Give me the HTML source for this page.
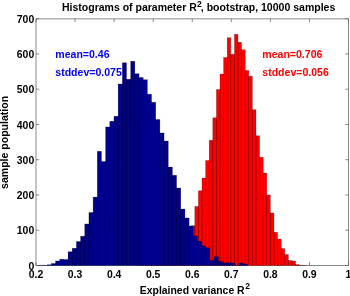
<!DOCTYPE html>
<html><head><meta charset="utf-8"><title>Histograms</title>
<style>html,body{margin:0;padding:0;background:#fff;overflow:hidden}svg{display:block;will-change:transform}</style>
</head><body>
<svg width="350" height="296" viewBox="0 0 350 296">
<rect width="350" height="296" fill="#fff"/>
<g stroke="#000" stroke-width="0.7" fill="none" opacity="0.66"><rect x="36.00" y="18.90" width="312.50" height="246.60"/><line x1="36.00" y1="265.50" x2="36.00" y2="262.20"/><line x1="36.00" y1="18.90" x2="36.00" y2="22.20"/><line x1="75.06" y1="265.50" x2="75.06" y2="262.20"/><line x1="75.06" y1="18.90" x2="75.06" y2="22.20"/><line x1="114.12" y1="265.50" x2="114.12" y2="262.20"/><line x1="114.12" y1="18.90" x2="114.12" y2="22.20"/><line x1="153.19" y1="265.50" x2="153.19" y2="262.20"/><line x1="153.19" y1="18.90" x2="153.19" y2="22.20"/><line x1="192.25" y1="265.50" x2="192.25" y2="262.20"/><line x1="192.25" y1="18.90" x2="192.25" y2="22.20"/><line x1="231.31" y1="265.50" x2="231.31" y2="262.20"/><line x1="231.31" y1="18.90" x2="231.31" y2="22.20"/><line x1="270.38" y1="265.50" x2="270.38" y2="262.20"/><line x1="270.38" y1="18.90" x2="270.38" y2="22.20"/><line x1="309.44" y1="265.50" x2="309.44" y2="262.20"/><line x1="309.44" y1="18.90" x2="309.44" y2="22.20"/><line x1="348.50" y1="265.50" x2="348.50" y2="262.20"/><line x1="348.50" y1="18.90" x2="348.50" y2="22.20"/><line x1="36.00" y1="265.50" x2="39.30" y2="265.50"/><line x1="348.50" y1="265.50" x2="345.20" y2="265.50"/><line x1="36.00" y1="230.24" x2="39.30" y2="230.24"/><line x1="348.50" y1="230.24" x2="345.20" y2="230.24"/><line x1="36.00" y1="194.98" x2="39.30" y2="194.98"/><line x1="348.50" y1="194.98" x2="345.20" y2="194.98"/><line x1="36.00" y1="159.72" x2="39.30" y2="159.72"/><line x1="348.50" y1="159.72" x2="345.20" y2="159.72"/><line x1="36.00" y1="124.46" x2="39.30" y2="124.46"/><line x1="348.50" y1="124.46" x2="345.20" y2="124.46"/><line x1="36.00" y1="89.20" x2="39.30" y2="89.20"/><line x1="348.50" y1="89.20" x2="345.20" y2="89.20"/><line x1="36.00" y1="53.94" x2="39.30" y2="53.94"/><line x1="348.50" y1="53.94" x2="345.20" y2="53.94"/><line x1="36.00" y1="18.68" x2="39.30" y2="18.68"/><line x1="348.50" y1="18.68" x2="345.20" y2="18.68"/></g>
<path d="M137.20 265.50L137.20 265.15L140.80 265.15L140.80 265.15L144.40 265.15L144.40 265.15L148.00 265.15L148.00 265.15L151.60 265.15L151.60 264.79L155.20 264.79L155.20 264.79L158.80 264.79L158.80 264.44L162.40 264.44L162.40 264.09L166.00 264.09L166.00 263.03L169.60 263.03L169.60 261.62L173.20 261.62L173.20 259.51L176.80 259.51L176.80 256.33L180.40 256.33L180.40 251.75L184.00 251.75L184.00 245.40L187.60 245.40L187.60 236.94L191.20 236.94L191.20 225.66L194.80 225.66L194.80 206.62L198.40 206.62L198.40 190.75L202.00 190.75L202.00 178.06L205.60 178.06L205.60 160.43L209.20 160.43L209.20 140.33L212.80 140.33L212.80 117.76L216.40 117.76L216.40 89.55L220.00 89.55L220.00 74.04L223.60 74.04L223.60 57.47L227.20 57.47L227.20 37.72L230.80 37.72L230.80 54.29L234.40 54.29L234.40 34.19L238.00 34.19L238.00 42.30L241.60 42.30L241.60 49.71L245.20 49.71L245.20 70.51L248.80 70.51L248.80 76.15L252.40 76.15L252.40 109.65L256.00 109.65L256.00 135.74L259.60 135.74L259.60 157.25L263.20 157.25L263.20 173.12L266.80 173.12L266.80 194.98L270.40 194.98L270.40 212.96L274.00 212.96L274.00 232.36L277.60 232.36L277.60 239.06L281.20 239.06L281.20 248.58L284.80 248.58L284.80 254.57L288.40 254.57L288.40 260.56L292.00 260.56L292.00 260.92L295.60 260.92L295.60 264.44L299.20 264.44L299.20 265.15L302.80 265.15L302.80 265.15L306.40 265.15L306.40 265.50Z" fill="#ff0000"/><g fill="none" stroke="#000" stroke-width="0.5" stroke-opacity="0.4"><rect x="137.20" y="265.15" width="3.60" height="0.35"/><rect x="140.80" y="265.15" width="3.60" height="0.35"/><rect x="144.40" y="265.15" width="3.60" height="0.35"/><rect x="148.00" y="265.15" width="3.60" height="0.35"/><rect x="151.60" y="264.79" width="3.60" height="0.71"/><rect x="155.20" y="264.79" width="3.60" height="0.71"/><rect x="158.80" y="264.44" width="3.60" height="1.06"/><rect x="162.40" y="264.09" width="3.60" height="1.41"/><rect x="166.00" y="263.03" width="3.60" height="2.47"/><rect x="169.60" y="261.62" width="3.60" height="3.88"/><rect x="173.20" y="259.51" width="3.60" height="5.99"/><rect x="176.80" y="256.33" width="3.60" height="9.17"/><rect x="180.40" y="251.75" width="3.60" height="13.75"/><rect x="184.00" y="245.40" width="3.60" height="20.10"/><rect x="187.60" y="236.94" width="3.60" height="28.56"/><rect x="191.20" y="225.66" width="3.60" height="39.84"/><rect x="194.80" y="206.62" width="3.60" height="58.88"/><rect x="198.40" y="190.75" width="3.60" height="74.75"/><rect x="202.00" y="178.06" width="3.60" height="87.44"/><rect x="205.60" y="160.43" width="3.60" height="105.07"/><rect x="209.20" y="140.33" width="3.60" height="125.17"/><rect x="212.80" y="117.76" width="3.60" height="147.74"/><rect x="216.40" y="89.55" width="3.60" height="175.95"/><rect x="220.00" y="74.04" width="3.60" height="191.46"/><rect x="223.60" y="57.47" width="3.60" height="208.03"/><rect x="227.20" y="37.72" width="3.60" height="227.78"/><rect x="230.80" y="54.29" width="3.60" height="211.21"/><rect x="234.40" y="34.19" width="3.60" height="231.31"/><rect x="238.00" y="42.30" width="3.60" height="223.20"/><rect x="241.60" y="49.71" width="3.60" height="215.79"/><rect x="245.20" y="70.51" width="3.60" height="194.99"/><rect x="248.80" y="76.15" width="3.60" height="189.35"/><rect x="252.40" y="109.65" width="3.60" height="155.85"/><rect x="256.00" y="135.74" width="3.60" height="129.76"/><rect x="259.60" y="157.25" width="3.60" height="108.25"/><rect x="263.20" y="173.12" width="3.60" height="92.38"/><rect x="266.80" y="194.98" width="3.60" height="70.52"/><rect x="270.40" y="212.96" width="3.60" height="52.54"/><rect x="274.00" y="232.36" width="3.60" height="33.14"/><rect x="277.60" y="239.06" width="3.60" height="26.44"/><rect x="281.20" y="248.58" width="3.60" height="16.92"/><rect x="284.80" y="254.57" width="3.60" height="10.93"/><rect x="288.40" y="260.56" width="3.60" height="4.94"/><rect x="292.00" y="260.92" width="3.60" height="4.58"/><rect x="295.60" y="264.44" width="3.60" height="1.06"/><rect x="299.20" y="265.15" width="3.60" height="0.35"/><rect x="302.80" y="265.15" width="3.60" height="0.35"/></g>
<path d="M38.85 265.50L38.85 265.15L43.02 265.15L43.02 265.15L47.20 265.15L47.20 264.79L51.37 264.79L51.37 263.38L55.55 263.38L55.55 260.92L59.72 260.92L59.72 259.15L63.89 259.15L63.89 259.51L68.07 259.51L68.07 251.75L72.24 251.75L72.24 248.22L76.42 248.22L76.42 241.52L80.59 241.52L80.59 236.23L84.76 236.23L84.76 223.89L88.94 223.89L88.94 212.61L93.11 212.61L93.11 197.10L97.29 197.10L97.29 151.26L101.46 151.26L101.46 161.48L105.63 161.48L105.63 126.93L109.81 126.93L109.81 121.29L113.98 121.29L113.98 116.35L118.16 116.35L118.16 83.91L122.33 83.91L122.33 62.76L126.50 62.76L126.50 79.33L130.68 79.33L130.68 61.34L134.85 61.34L134.85 73.69L139.03 73.69L139.03 77.56L143.20 77.56L143.20 79.68L147.37 79.68L147.37 94.14L151.55 94.14L151.55 102.25L155.72 102.25L155.72 119.52L159.90 119.52L159.90 132.92L164.07 132.92L164.07 141.03L168.24 141.03L168.24 167.12L172.42 167.12L172.42 175.23L176.59 175.23L176.59 187.93L180.77 187.93L180.77 209.08L184.94 209.08L184.94 217.90L189.11 217.90L189.11 226.01L193.29 226.01L193.29 235.88L197.46 235.88L197.46 241.17L201.64 241.17L201.64 245.75L205.81 245.75L205.81 247.87L209.98 247.87L209.98 260.56L214.16 260.56L214.16 256.69L218.33 256.69L218.33 261.27L222.51 261.27L222.51 263.03L226.68 263.03L226.68 262.68L230.85 262.68L230.85 263.03L235.03 263.03L235.03 265.15L239.20 265.15L239.20 263.03L243.38 263.03L243.38 264.09L247.55 264.09L247.55 265.50Z" fill="#00008f"/><g fill="none" stroke="#000" stroke-width="0.5" stroke-opacity="0.45"><rect x="38.85" y="265.15" width="4.17" height="0.35"/><rect x="43.02" y="265.15" width="4.17" height="0.35"/><rect x="47.20" y="264.79" width="4.17" height="0.71"/><rect x="51.37" y="263.38" width="4.17" height="2.12"/><rect x="55.55" y="260.92" width="4.17" height="4.58"/><rect x="59.72" y="259.15" width="4.17" height="6.35"/><rect x="63.89" y="259.51" width="4.17" height="5.99"/><rect x="68.07" y="251.75" width="4.17" height="13.75"/><rect x="72.24" y="248.22" width="4.17" height="17.28"/><rect x="76.42" y="241.52" width="4.17" height="23.98"/><rect x="80.59" y="236.23" width="4.17" height="29.27"/><rect x="84.76" y="223.89" width="4.17" height="41.61"/><rect x="88.94" y="212.61" width="4.17" height="52.89"/><rect x="93.11" y="197.10" width="4.17" height="68.40"/><rect x="97.29" y="151.26" width="4.17" height="114.24"/><rect x="101.46" y="161.48" width="4.17" height="104.02"/><rect x="105.63" y="126.93" width="4.17" height="138.57"/><rect x="109.81" y="121.29" width="4.17" height="144.21"/><rect x="113.98" y="116.35" width="4.17" height="149.15"/><rect x="118.16" y="83.91" width="4.17" height="181.59"/><rect x="122.33" y="62.76" width="4.17" height="202.74"/><rect x="126.50" y="79.33" width="4.17" height="186.17"/><rect x="130.68" y="61.34" width="4.17" height="204.16"/><rect x="134.85" y="73.69" width="4.17" height="191.81"/><rect x="139.03" y="77.56" width="4.17" height="187.94"/><rect x="143.20" y="79.68" width="4.17" height="185.82"/><rect x="147.37" y="94.14" width="4.17" height="171.36"/><rect x="151.55" y="102.25" width="4.17" height="163.25"/><rect x="155.72" y="119.52" width="4.17" height="145.98"/><rect x="159.90" y="132.92" width="4.17" height="132.58"/><rect x="164.07" y="141.03" width="4.17" height="124.47"/><rect x="168.24" y="167.12" width="4.17" height="98.38"/><rect x="172.42" y="175.23" width="4.17" height="90.27"/><rect x="176.59" y="187.93" width="4.17" height="77.57"/><rect x="180.77" y="209.08" width="4.17" height="56.42"/><rect x="184.94" y="217.90" width="4.17" height="47.60"/><rect x="189.11" y="226.01" width="4.17" height="39.49"/><rect x="193.29" y="235.88" width="4.17" height="29.62"/><rect x="197.46" y="241.17" width="4.17" height="24.33"/><rect x="201.64" y="245.75" width="4.17" height="19.75"/><rect x="205.81" y="247.87" width="4.17" height="17.63"/><rect x="209.98" y="260.56" width="4.17" height="4.94"/><rect x="214.16" y="256.69" width="4.17" height="8.81"/><rect x="218.33" y="261.27" width="4.17" height="4.23"/><rect x="222.51" y="263.03" width="4.17" height="2.47"/><rect x="226.68" y="262.68" width="4.17" height="2.82"/><rect x="230.85" y="263.03" width="4.17" height="2.47"/><rect x="235.03" y="265.15" width="4.17" height="0.35"/><rect x="239.20" y="263.03" width="4.17" height="2.47"/><rect x="243.38" y="264.09" width="4.17" height="1.41"/></g>
<g font-family="Liberation Sans, sans-serif" font-weight="bold" font-size="10.4px" fill="#000"><text x="36.00" y="277.9" text-anchor="middle">0.2</text><text x="75.06" y="277.9" text-anchor="middle">0.3</text><text x="114.12" y="277.9" text-anchor="middle">0.4</text><text x="153.19" y="277.9" text-anchor="middle">0.5</text><text x="192.25" y="277.9" text-anchor="middle">0.6</text><text x="231.31" y="277.9" text-anchor="middle">0.7</text><text x="270.38" y="277.9" text-anchor="middle">0.8</text><text x="309.44" y="277.9" text-anchor="middle">0.9</text><text x="348.50" y="277.9" text-anchor="middle">1</text><text x="34.2" y="269.70" text-anchor="end">0</text><text x="34.2" y="234.44" text-anchor="end">100</text><text x="34.2" y="199.18" text-anchor="end">200</text><text x="34.2" y="163.92" text-anchor="end">300</text><text x="34.2" y="128.66" text-anchor="end">400</text><text x="34.2" y="93.40" text-anchor="end">500</text><text x="34.2" y="58.14" text-anchor="end">600</text><text x="34.2" y="22.88" text-anchor="end">700</text><text x="62.0" y="10.7" textLength="134.8" lengthAdjust="spacingAndGlyphs">Histograms of parameter R</text><text x="197.0" y="7" font-size="8.5px">2</text><text x="200.8" y="10.7" textLength="134.5" lengthAdjust="spacingAndGlyphs">, bootstrap, 10000 samples</text><text x="139.8" y="294" textLength="104.8" lengthAdjust="spacingAndGlyphs">Explained variance R</text><text x="245.2" y="289" font-size="8.5px">2</text><text transform="translate(8.3,188.9) rotate(-90)" textLength="93.0" lengthAdjust="spacingAndGlyphs">sample population</text><text x="55.3" y="58" font-size="10.55px" fill="#0000ff">mean=0.46</text><text x="55.3" y="76" font-size="10.55px" fill="#0000ff">stddev=0.075</text><text x="262.3" y="58" font-size="10.55px" fill="#ff0000">mean=0.706</text><text x="262.3" y="76" font-size="10.55px" fill="#ff0000">stddev=0.056</text></g>
</svg>
</body></html>
